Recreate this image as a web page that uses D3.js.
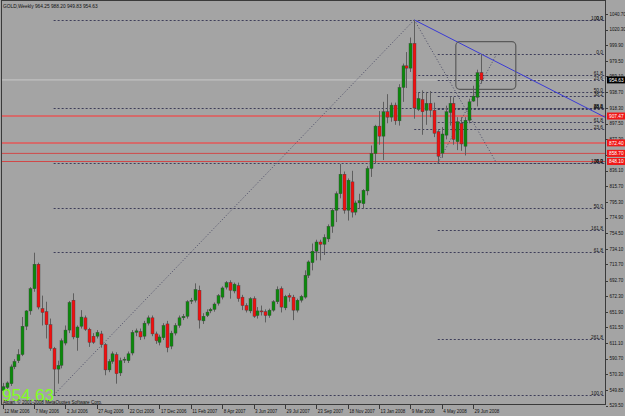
<!DOCTYPE html>
<html>
<head>
<meta charset="utf-8">
<script src="https://cdn.jsdelivr.net/npm/d3@7"></script>
<style>
body { margin: 0; background: #a4a4a4; }
svg { display: block; font-family: "Liberation Sans", Arial, sans-serif; }
</style>
</head>
<body>
<svg id="chart" width="625" height="416"></svg>
<script>
// weekly GOLD bars, 12 Mar 2006 .. 13 Jul 2008 (one entry per week)
var opens = [549,553,558,580,588,596,633,653,682,714,
  656,652,635,604,577,582,611,628,667,618,
  633,644,629,620,620,623,609,576,587,596,
  572,589,588,598,625,626,620,637,644,623,
  612,618,636,607,624,634,644,646,666,667,
  680,640,647,653,655,663,671,684,690,679,
  686,671,660,653,669,647,653,652,647,654,
  665,682,657,673,671,654,667,671,699.5,716,
  731,743,740,747,763.5,784.5,806,831.5,784.5,821.5,
  782,794,793,809.7,839,858.5,894.3,881.2,913,906,
  921.7,901.2,944.8,973,970,1002.3,916,929,915,924,
  915,887,859,882.5,912,924,874,898,868,902,
  927,932,964.25];
var highs = [559,561,583,590,603,645,654,684,729,716,
  673,665,643,606,588,617,634,666,676,634,
  654,647,631,624,628,627,611,590,600,599,
  592,593,600,628,630,630,640,647,647,626,
  622,637,640,627,637,647,649,667,670,689,
  686,650,655,657,664,675,685,692,693,690,
  690,674,663,671,672,658,660,655,656,667,
  685,685,674,676,674,669,674,706,719,741,
  746,746,753,766,787,809,845,835,826,836,
  797,806,812,842,869,896,914,926,936,925,
  925,949,976,991,1010,1033,938,941,939,940,
  925,889,893,921,933,932,906,906,906,930,
  947,968,988.20];
var lows = [545,549,555,577,585,594,628,648,678,655,
  634,617,601,543,558,578,608,624,616,601,
  630,627,606,610,617,605,569,573,584,558,
  568,585,585,595,620,615,616,634,620,610,
  608,615,599,603,621,631,641,643,662,664,
  630,636,645,650,652,660,668,681,669,676,
  665,654,651,650,644,643,647,638,644,652,
  662,651,654,665,641,651,664,669,696,706,
  719,719,726,743,755,769,800,780,771,775,
  778,786,786,804,828,846,870,850,898,900,
  896,895,926,944,965,904,914,883,896,906,
  880,846,853,877,895,870,863,862,856,898,
  926,920,949.83];
var closes = [554,559,580,587,596,633,653,682,714,658,
  651,635,604,577,582,614,628,664,619,632,
  645,629,612,612,625,609,576,587,597,571,
  588,590,597,625,627,619,637,644,623,614,
  619,634,605,624,634,644,646,665,667,681,
  641,646,651.5,655,662,673,683,690,680,688,
  669,660,654,669,646,653,652,647,654,665,
  681,658,672,671,654,667,672,699.5,717,731,
  743,740,749,763.5,784.5,806,831.5,784.5,823.7,782,
  794,797,810.6,839,858.5,894.3,881.2,913,906,921.7,
  901.2,944.8,973,970,1002.3,918,930.4,913,924,915,
  885,855,884,913,924,877,900,871,902,926,
  933.5,964,954.63];

// one date label every 8 bars
var dateLabels = ["12 Mar 2006","7 May 2006","2 Jul 2006","27 Aug 2006","22 Oct 2006",
  "17 Dec 2006","11 Feb 2007","8 Apr 2007","3 Jun 2007","29 Jul 2007","23 Sep 2007",
  "18 Nov 2007","13 Jan 2008","9 Mar 2008","4 May 2008","29 Jun 2008"];
var priceTicks = ["1040.70","1020.30","999.90","979.50","959.10","938.70","918.30","897.50",
  "877.30","857.10","836.10","815.70","795.30","774.90","754.50","734.10","713.70","692.70",
  "672.30","651.90","631.50","611.10","590.70","570.30","549.80","529.50"];

// horizontal lines placed on the chart
var redPrices = [907.47, 872.40, 858.70, 848.10];
var redWidths = [2, 2, 1, 1];
var bidPrice = 954.63;

// fibo objects: [bar, price] of the two anchor points
var fibA = [[13, 543], [105, 1033]];
var fibB = [[105, 1033], [126, 846]];
var fibC = [[111, 846], [126, 988.2]];
var fibLevels = [0, 23.6, 38.2, 50, 61.8, 100];
var fibExtLevels = [0, 23.6, 38.2, 50, 61.8, 100, 161.8, 261.8];
var blueTrend = [[105, 1033], [154, 905]];
var boxCorners = [[115.6, 1004.5], [130.9, 942.3]];

var svg = d3.select("#chart");
var largeur = 625, hauteur = 416;
var plot = {gauche: 2, droite: 606, haut: 1, bas: 405};

var xScale = d3.scaleLinear().domain([0, 122]).range([2.7, 480.9]);
var yScale = d3.scaleLinear().domain([529.5, 1040.7]).range([405.5, 14]);

svg.append("rect").attr("width", largeur).attr("height", hauteur).attr("fill", "#a4a4a4");

svg.append("clipPath").attr("id", "clip")
  .append("rect")
  .attr("x", plot.gauche).attr("y", plot.haut)
  .attr("width", plot.droite - plot.gauche).attr("height", plot.bas - plot.haut);

var g = svg.append("g").attr("clip-path", "url(#clip)");

// red horizontal lines
g.selectAll(".red").data(redPrices).enter().append("line")
  .attr("x1", plot.gauche).attr("x2", plot.droite)
  .attr("y1", d => yScale(d)).attr("y2", d => yScale(d))
  .attr("stroke", (d, i) => redWidths[i] > 1 ? "#d46a6a" : "#d04848")
  .attr("stroke-width", (d, i) => redWidths[i]);

// bid line
g.append("line")
  .attr("x1", plot.gauche).attr("x2", plot.droite)
  .attr("y1", yScale(bidPrice)).attr("y2", yScale(bidPrice))
  .attr("stroke", "#c8c8c8").attr("stroke-width", 1);

// fibonacci objects
function drawFibo(pts, levels) {
  var p100 = pts[0][1], p0 = pts[1][1];
  var start = Math.min(pts[0][0], pts[1][0]);
  g.append("line")
    .attr("x1", xScale(pts[0][0])).attr("y1", yScale(pts[0][1]))
    .attr("x2", xScale(pts[1][0])).attr("y2", yScale(pts[1][1]))
    .attr("stroke", "#4c4c66").attr("stroke-width", 1).attr("stroke-dasharray", "1,2");
  levels.forEach(function(l) {
    var p = p0 + (p100 - p0) * l / 100;
    var y = Math.round(yScale(p)) + 0.5;
    g.append("line")
      .attr("x1", xScale(start)).attr("x2", plot.droite)
      .attr("y1", y).attr("y2", y)
      .attr("stroke", "#3e3e5a").attr("stroke-width", 1).attr("stroke-dasharray", "2,2");
    g.append("text")
      .attr("x", plot.droite - 3).attr("y", y - 1)
      .attr("text-anchor", "end")
      .style("font-size", "4.8px").attr("fill", "#111")
      .text(l.toFixed(1));
  });
}
drawFibo(fibA, fibLevels);
drawFibo(fibB, fibLevels);
drawFibo(fibC, fibExtLevels);

// blue trend line
g.append("line")
  .attr("x1", xScale(blueTrend[0][0])).attr("y1", yScale(blueTrend[0][1]))
  .attr("x2", xScale(blueTrend[1][0])).attr("y2", yScale(blueTrend[1][1]))
  .attr("stroke", "#3a3ad6").attr("stroke-width", 1);

// rounded rectangle
g.append("rect")
  .attr("x", xScale(boxCorners[0][0])).attr("y", yScale(boxCorners[0][1]))
  .attr("width", xScale(boxCorners[1][0]) - xScale(boxCorners[0][0]))
  .attr("height", yScale(boxCorners[1][1]) - yScale(boxCorners[0][1]))
  .attr("rx", 4).attr("fill", "none").attr("stroke", "#5a5a5a").attr("stroke-width", 1.2);

// candles
var bars = d3.range(opens.length);
g.selectAll(".wick").data(bars).enter().append("line")
  .attr("x1", i => Math.round(xScale(i)) + 0.5).attr("x2", i => Math.round(xScale(i)) + 0.5)
  .attr("y1", i => yScale(highs[i])).attr("y2", i => yScale(lows[i]))
  .attr("stroke", "#5e5e5e").attr("stroke-width", 1);

g.selectAll(".body").data(bars).enter().append("rect")
  .attr("x", i => Math.round(xScale(i)) - 1)
  .attr("y", i => yScale(Math.max(opens[i], closes[i])))
  .attr("width", 3)
  .attr("height", i => Math.max(1, yScale(Math.min(opens[i], closes[i])) - yScale(Math.max(opens[i], closes[i]))))
  .attr("fill", i => closes[i] >= opens[i] ? "#0a8a0a" : "#f01010")
  .attr("stroke", "#404040").attr("stroke-width", 0.4);

// big price and copyright
svg.append("text")
  .attr("x", 2).attr("y", 401)
  .style("font-size", "17px").attr("fill", "#80ff20")
  .text(closes[closes.length - 1].toFixed(2));
svg.append("text")
  .attr("x", 3).attr("y", 403.5)
  .style("font-size", "4.6px").attr("fill", "#111")
  .text("Alpari, © 2001-2008 MetaQuotes Software Corp.");

// header
var n = opens.length - 1;
svg.append("text")
  .attr("x", 3).attr("y", 7.5)
  .style("font-size", "4.8px").attr("fill", "#111")
  .text("GOLD,Weekly  " + opens[n].toFixed(2) + " " + highs[n].toFixed(2) + " " + lows[n].toFixed(2) + " " + closes[n].toFixed(2));

// frame
svg.append("rect")
  .attr("x", plot.gauche - 0.5).attr("y", plot.haut - 0.5)
  .attr("width", plot.droite - plot.gauche).attr("height", plot.bas - plot.haut)
  .attr("fill", "none").attr("stroke", "#3a3a3a").attr("stroke-width", 1);

// price axis
var axe = svg.append("g");
axe.selectAll("line").data(priceTicks).enter().append("line")
  .attr("x1", plot.droite).attr("x2", plot.droite + 2)
  .attr("y1", d => Math.round(yScale(+d)) + 0.5).attr("y2", d => Math.round(yScale(+d)) + 0.5)
  .attr("stroke", "#3a3a3a");
axe.selectAll("text").data(priceTicks).enter().append("text")
  .attr("x", plot.droite + 3.5).attr("y", d => yScale(+d) + 1.8)
  .style("font-size", "4.5px").attr("fill", "#111")
  .text(d => d);

// price labels of the red lines and the bid
function priceBox(p, bg, txt) {
  var y = yScale(p);
  svg.append("rect").attr("x", plot.droite + 1).attr("y", y - 3.5)
    .attr("width", largeur - plot.droite - 1).attr("height", 7).attr("fill", bg);
  svg.append("text").attr("x", plot.droite + 3).attr("y", y + 1.8)
    .style("font-size", "4.8px").attr("fill", "#fff").text(txt);
}
redPrices.forEach(p => priceBox(p, "#f01818", p.toFixed(2)));
priceBox(bidPrice, "#000", bidPrice.toFixed(2));

// time axis
var dates = svg.append("g");
dates.selectAll("line").data(dateLabels).enter().append("line")
  .attr("x1", (d, k) => Math.round(xScale(k * 8)) + 0.5).attr("x2", (d, k) => Math.round(xScale(k * 8)) + 0.5)
  .attr("y1", plot.bas).attr("y2", plot.bas + 4)
  .attr("stroke", "#3a3a3a");
dates.selectAll("text").data(dateLabels).enter().append("text")
  .attr("x", (d, k) => xScale(k * 8) + 1.5).attr("y", 412.5)
  .style("font-size", "4.5px").attr("fill", "#111")
  .text(d => d);
</script>
</body>
</html>
